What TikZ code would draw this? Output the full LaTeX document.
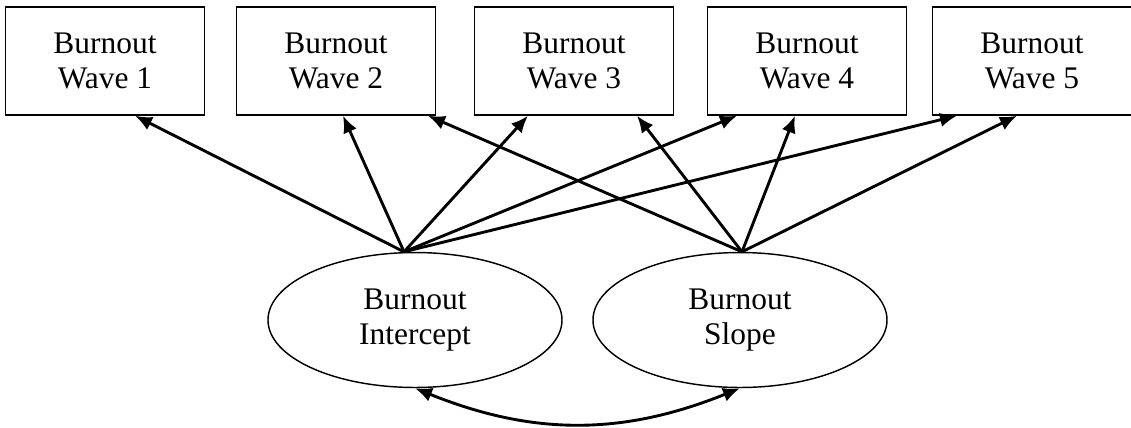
\documentclass[tikz,border=0pt]{standalone}
\usepackage{fontspec}
\setmainfont{Liberation Serif}
\usetikzlibrary{arrows.meta,calc,shapes.geometric}

\begin{document}
\begin{tikzpicture}[x=0.3816pt,y=-0.3816pt,font=\fontsize{12}{13.4}\selectfont,
  wave node/.style={rectangle,draw,line width=0.55pt,minimum width=76pt,minimum height=41.2pt,align=center,inner sep=0pt},
  latent node/.style={ellipse,draw,line width=0.55pt,minimum width=112.2pt,minimum height=51.5pt,align=center,inner sep=0pt}]
\tikzstyle{load edge} = [draw,line width=1.1pt,-{Latex[length=6.5pt,width=5.5pt]}]
\tikzstyle{cov edge} = [draw,line width=1.1pt,{Latex[length=6.5pt,width=5.5pt]}-{Latex[length=6.5pt,width=5.5pt]}]

\useasboundingbox (0,0) rectangle (1131,427);

% Observed waves
\node[wave node] (w1) at (105,61) {Burnout\\Wave 1};
\node[wave node] (w2) at (336,61) {Burnout\\Wave 2};
\node[wave node] (w3) at (574,61) {Burnout\\Wave 3};
\node[wave node] (w4) at (807,61) {Burnout\\Wave 4};
\node[wave node] (w5) at (1032,61) {Burnout\\Wave 5};

% Growth factors
\node[latent node] (int) at (415,320) {Burnout\\Intercept};
\node[latent node] (slp) at (740,320) {Burnout\\Slope};

\coordinate (ia) at ($(int.north)+(-11,0)$);
\coordinate (sa) at ($(slp.north)+(2,0)$);

% Intercept loadings
\draw[load edge] (ia) -- ($(w1.south)+(30,0)$);
\draw[load edge] (ia) -- ($(w2.south)+(7,0)$);
\draw[load edge] (ia) -- ($(w3.south)+(-46,0)$);
\draw[load edge] (ia) -- ($(w4.south)+(-70,0)$);
\draw[load edge] (ia) -- ($(w5.south)+(-75,0)$);

% Slope loadings
\draw[load edge] (sa) -- ($(w2.south)+(92,0)$);
\draw[load edge] (sa) -- ($(w3.south)+(63,0)$);
\draw[load edge] (sa) -- ($(w4.south)+(-12,0)$);
\draw[load edge] (sa) -- ($(w5.south)+(-15,0)$);

% Covariance
\draw[cov edge] (int.south) to[bend right=22] (slp.south);

\end{tikzpicture}
\end{document}
